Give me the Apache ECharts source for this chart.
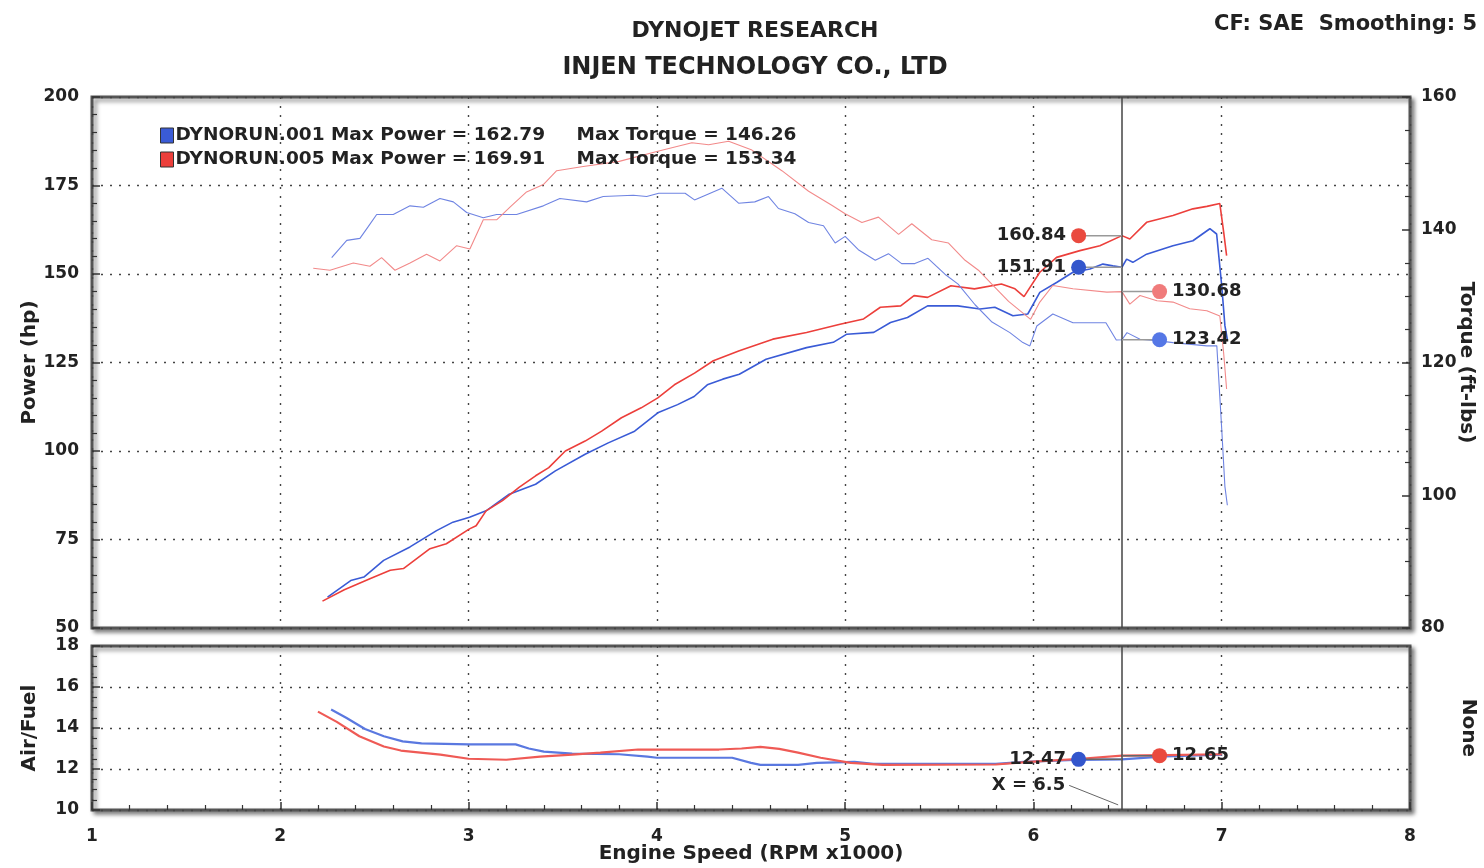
<!DOCTYPE html>
<html>
<head>
<meta charset="utf-8">
<script src="https://cdn.jsdelivr.net/npm/echarts@6/dist/echarts.min.js"></script>
<style>
html,body{margin:0;padding:0;background:#fff;overflow:hidden;}
#chart{width:1484px;height:868px;}
</style>
</head>
<body>
<div id="chart"></div>
<script>
// ---------------- DATA ----------------
// Power (hp) vs RPM x1000
const blueHpRpm = [2.251,2.374,2.444,2.549,2.689,2.83,2.917,3.005,3.093,3.216,3.356,3.461,3.619,3.742,3.882,4.005,4.11,4.198,4.268,4.35,4.438,4.58,4.795,4.937,5.009,5.152,5.241,5.331,5.438,5.598,5.716,5.795,5.891,5.97,6.034,6.123,6.21,6.3,6.369,6.422,6.47,6.495,6.528,6.601,6.741,6.847,6.937,6.973,7.0,7.017,7.03];
const blueHp    = [58.7,63.4,64.4,69.1,72.9,77.5,79.9,81.3,83.1,87.8,90.6,94.4,99.1,102.3,105.6,110.8,113.1,115.4,118.7,120.3,121.7,125.9,129.2,130.7,133.0,133.5,136.3,137.7,141.0,141.0,140.1,140.6,138.2,138.7,144.8,147.6,150.5,151.4,152.8,152.3,151.91,154.2,153.3,155.6,158.0,159.4,162.79,161.3,146.7,135.4,131.5];

const redHpRpm = [2.224,2.34,2.479,2.584,2.654,2.795,2.882,3.005,3.04,3.093,3.18,3.268,3.356,3.426,3.514,3.619,3.707,3.812,3.917,4.005,4.093,4.2,4.3,4.438,4.616,4.795,4.973,5.098,5.187,5.295,5.366,5.438,5.562,5.687,5.83,5.902,5.95,6.034,6.123,6.247,6.353,6.47,6.512,6.601,6.741,6.847,6.921,6.99,7.01,7.026];
const redHp    = [57.6,60.8,64.0,66.3,66.8,72.4,73.8,78.0,78.9,83.1,86.0,89.7,93.0,95.3,100.0,102.8,105.6,109.4,112.2,115.0,118.7,122.0,125.5,128.3,131.6,133.5,135.8,137.3,140.6,141.0,143.9,143.4,146.7,145.8,147.2,145.8,143.6,150.5,154.7,156.6,158.0,160.84,159.9,164.6,166.5,168.4,169.1,169.91,162.0,155.2];

// Torque (ft-lbs) vs RPM x1000
const blueTqRpm = [2.273,2.353,2.423,2.468,2.512,2.6,2.689,2.76,2.848,2.919,2.99,3.078,3.149,3.255,3.397,3.485,3.627,3.715,3.875,3.946,4.01,4.15,4.2,4.345,4.434,4.52,4.593,4.646,4.733,4.806,4.885,4.947,5.0,5.07,5.16,5.23,5.3,5.37,5.44,5.53,5.6,5.69,5.78,5.875,5.944,5.981,6.018,6.103,6.21,6.385,6.44,6.47,6.497,6.566,6.656,6.741,6.921,6.974,7.0,7.017,7.03];
const blueTq    = [135.8,138.4,138.7,140.5,142.3,142.3,143.6,143.4,144.7,144.2,142.6,141.8,142.3,142.3,143.6,144.7,144.2,145.0,145.2,145.0,145.5,145.5,144.5,146.26,144.0,144.2,145.0,143.2,142.4,141.1,140.6,138.0,139.0,137.0,135.4,136.4,134.9,134.9,135.7,133.3,131.8,128.7,126.1,124.5,123.0,122.5,125.5,127.3,126.0,126.0,123.4,123.42,124.5,123.5,123.3,123.0,122.5,122.5,110.0,101.3,98.5];

const redTqRpm = [2.175,2.264,2.388,2.476,2.538,2.609,2.689,2.777,2.848,2.937,3.007,3.078,3.149,3.22,3.308,3.397,3.468,3.6,3.8,4.0,4.186,4.275,4.381,4.505,4.664,4.806,4.929,5.0,5.089,5.177,5.284,5.354,5.46,5.549,5.637,5.708,5.779,5.868,5.938,5.985,6.034,6.103,6.21,6.39,6.47,6.512,6.566,6.656,6.741,6.83,6.921,6.99,7.01,7.026];
const redTq    = [134.2,133.9,135.0,134.5,135.8,133.9,135.0,136.3,135.3,137.6,137.1,141.5,141.5,143.4,145.7,146.8,148.9,149.5,150.3,151.8,153.1,152.8,153.34,152.0,148.9,145.8,143.7,142.4,141.1,141.9,139.3,140.9,138.5,138.0,135.4,133.9,131.8,129.2,127.6,126.5,129.1,131.6,131.1,130.6,130.68,128.8,130.1,129.3,129.1,128.1,127.8,127.0,121.5,116.0];

// Air/Fuel vs RPM x1000
const blueAfRpm = [2.27,2.35,2.45,2.55,2.65,2.75,3.0,3.25,3.32,3.4,3.55,3.8,3.95,4.0,4.4,4.5,4.55,4.75,4.85,5.05,5.15,5.5,5.8,5.95,6.25,6.47,6.7,7.0];
const blueAf    = [14.9,14.5,13.95,13.6,13.35,13.25,13.2,13.2,13.0,12.85,12.75,12.72,12.6,12.55,12.55,12.3,12.2,12.2,12.3,12.35,12.25,12.25,12.25,12.35,12.45,12.47,12.62,12.7];
const redAfRpm = [2.2,2.3,2.42,2.55,2.64,2.85,3.0,3.2,3.38,3.55,3.7,3.9,4.33,4.45,4.55,4.65,4.75,4.87,5.03,5.2,5.8,5.98,6.25,6.47,6.7,7.0];
const redAf    = [14.8,14.3,13.6,13.1,12.9,12.7,12.5,12.45,12.6,12.7,12.8,12.95,12.95,13.0,13.08,12.98,12.8,12.55,12.3,12.2,12.22,12.35,12.5,12.65,12.68,12.72];

// Cursor readings
const cursorX = 6.47;
const cursorLabel = 'X = 6.5';
const cursorBlueHp = 151.91, cursorRedHp = 160.84;
const cursorBlueTq = 123.42, cursorRedTq = 130.68;
const cursorBlueAf = 12.47, cursorRedAf = 12.65;

// Legend texts
const runNames = ['DYNORUN.001', 'DYNORUN.005'];
const maxPower = ['162.79', '169.91'];
const maxTorque = ['146.26', '153.34'];

// Axis ticks
const xTicks = {min: 1, max: 8, interval: 1};
const hpTicks = {min: 50, max: 200, interval: 25};
const tqTicks = {min: 80, max: 160, interval: 20};
const afTicks = {min: 10, max: 18, interval: 2};

// ---------------- STYLE ----------------
const FONT = 'DejaVu Sans';
const BLUE = '#3a5bd6', RED = '#ec3f3b';
const BLUE_T = '#6f84e2', RED_T = '#f28a8a';
const LEFT_MARK = 6.24, RIGHT_MARK = 6.67;

function pairs(xs, ys) { return xs.map((x, i) => [x, ys[i]]); }

const dotted = {color: '#444', width: 1.4, type: [2, 7]};
const frameGrid = {
  show: true, backgroundColor: '#fff', borderColor: '#555', borderWidth: 3,
  shadowColor: 'rgba(0,0,0,0.45)', shadowBlur: 4, shadowOffsetX: 3, shadowOffsetY: 3,
  outerBoundsMode: 'none', containLabel: false
};
const tickLbl = {color: '#222', fontFamily: FONT, fontWeight: 'bold', fontSize: 17};
const nameStyle = {color: '#222', fontFamily: FONT, fontWeight: 'bold', fontSize: 20};
const markLbl = {color: '#222', fontFamily: FONT, fontWeight: 'bold', fontSize: 18};

function markerSeries(name, xi, yi, value, markX, color, side, lineColor) {
  return {
    name: name, type: 'line', xAxisIndex: xi, yAxisIndex: yi, z: 10,
    lineStyle: {color: lineColor || '#999', width: 1.5},
    itemStyle: {color: color},
    symbolSize: 15, silent: true, animation: false,
    data: [
      {value: [cursorX, value], symbol: 'none'},
      {value: [markX, value], symbol: 'circle',
       label: Object.assign({show: true, position: side, distance: 5, formatter: value.toFixed(2)}, markLbl)}
    ]
  };
}

const cursorLine = {
  silent: true, symbol: ['none', 'none'], animation: false,
  lineStyle: {color: '#444', width: 1.5, type: 'solid'},
  label: {show: false},
  data: [{xAxis: cursorX}]
};

const chart = echarts.init(document.getElementById('chart'), null, {renderer: 'canvas', width: 1484, height: 868});
const option = {
  backgroundColor: '#fff',
  animation: false,
  title: [
    {text: 'DYNOJET RESEARCH', left: 750, top: 15, textAlign: 'center',
     textStyle: {fontFamily: FONT, fontWeight: 'bold', fontSize: 22, color: '#222'}},
    {text: 'INJEN TECHNOLOGY CO., LTD', left: 750, top: 51, textAlign: 'center',
     textStyle: {fontFamily: FONT, fontWeight: 'bold', fontSize: 24, color: '#222'}},
    {text: 'CF: SAE  Smoothing: 5', right: 2, top: 9,
     textStyle: {fontFamily: FONT, fontWeight: 'bold', fontSize: 21, color: '#222'}}
  ],
  legend: {
    left: 155, top: 121, orient: 'vertical', itemGap: 5, itemWidth: 13, itemHeight: 15,
    icon: 'rect', selectedMode: false,
    data: [
      {name: runNames[0], itemStyle: {color: BLUE, borderColor: '#333', borderWidth: 1}},
      {name: runNames[1], itemStyle: {color: RED, borderColor: '#333', borderWidth: 1}}
    ],
    formatter: function (n) {
      const i = runNames.indexOf(n);
      return '{a|' + n + ' Max Power = ' + maxPower[i] + '}{b|Max Torque = ' + maxTorque[i] + '}';
    },
    textStyle: {
      padding: [0, 0, 0, -3],
      rich: {
        a: {width: 401, fontFamily: FONT, fontWeight: 'bold', fontSize: 18.5, color: '#222'},
        b: {fontFamily: FONT, fontWeight: 'bold', fontSize: 18.5, color: '#222'}
      }
    }
  },
  grid: [
    Object.assign({left: 92, right: 74, top: 97, height: 531}, frameGrid),
    Object.assign({left: 92, right: 74, top: 646, height: 164}, frameGrid)
  ],
  xAxis: [
    {type: 'value', gridIndex: 0, min: xTicks.min, max: xTicks.max, interval: xTicks.interval,
     axisLine: {show: false}, axisTick: {show: false}, axisLabel: {show: false},
     splitLine: {show: true, lineStyle: dotted}},
    {type: 'value', gridIndex: 1, min: xTicks.min, max: xTicks.max, interval: xTicks.interval,
     axisLine: {show: false},
     axisTick: {show: true, inside: true, length: 8, lineStyle: {color: '#333', width: 1.5}},
     minorTick: {show: true, splitNumber: 5, length: 5, lineStyle: {color: '#333', width: 1.2}},
     axisLabel: Object.assign({margin: 18}, tickLbl),
     splitLine: {show: true, lineStyle: dotted},
     name: 'Engine Speed (RPM x1000)', nameLocation: 'middle', nameGap: 34, nameMoveOverlap: false,
     nameTextStyle: nameStyle}
  ],
  yAxis: [
    {type: 'value', gridIndex: 0, min: hpTicks.min, max: hpTicks.max, interval: hpTicks.interval,
     axisLine: {show: false},
     axisTick: {show: true, inside: true, length: 8, lineStyle: {color: '#333', width: 1.5}},
     minorTick: {show: true, splitNumber: 5, length: 5, lineStyle: {color: '#333', width: 1.2}},
     axisLabel: Object.assign({margin: 13}, tickLbl),
     splitLine: {show: true, lineStyle: dotted},
     name: 'Power (hp)', nameLocation: 'middle', nameGap: 52, nameMoveOverlap: false, nameTextStyle: nameStyle},
    {type: 'value', gridIndex: 0, position: 'right', min: tqTicks.min, max: tqTicks.max, interval: tqTicks.interval,
     axisLine: {show: false},
     axisTick: {show: true, inside: true, length: 8, lineStyle: {color: '#333', width: 1.5}},
     minorTick: {show: true, splitNumber: 4, length: 5, lineStyle: {color: '#333', width: 1.2}},
     axisLabel: Object.assign({margin: 11}, tickLbl),
     splitLine: {show: false},
     name: 'Torque (ft-lbs)', nameLocation: 'middle', nameGap: 46, nameRotate: -90, nameMoveOverlap: false,
     nameTextStyle: nameStyle},
    {type: 'value', gridIndex: 1, min: afTicks.min, max: afTicks.max, interval: afTicks.interval,
     axisLine: {show: false},
     axisTick: {show: true, inside: true, length: 8, lineStyle: {color: '#333', width: 1.5}},
     minorTick: {show: true, splitNumber: 4, length: 5, lineStyle: {color: '#333', width: 1.2}},
     axisLabel: Object.assign({margin: 13}, tickLbl),
     splitLine: {show: true, lineStyle: dotted},
     name: 'Air/Fuel', nameLocation: 'middle', nameGap: 52, nameMoveOverlap: false, nameTextStyle: nameStyle},
    {type: 'value', gridIndex: 1, position: 'right', min: 0, max: 1,
     axisLine: {show: false}, axisTick: {show: false}, axisLabel: {show: false}, splitLine: {show: false},
     name: 'None', nameLocation: 'middle', nameGap: 48, nameRotate: -90, nameMoveOverlap: false,
     nameTextStyle: nameStyle}
  ],
  series: [
    {name: runNames[0], type: 'line', xAxisIndex: 0, yAxisIndex: 0, showSymbol: false, silent: true,
     data: pairs(blueHpRpm, blueHp), lineStyle: {color: BLUE, width: 1.6}, itemStyle: {color: BLUE},
     markLine: cursorLine},
    {name: runNames[1], type: 'line', xAxisIndex: 0, yAxisIndex: 0, showSymbol: false, silent: true,
     data: pairs(redHpRpm, redHp), lineStyle: {color: RED, width: 1.6}, itemStyle: {color: RED}},
    {name: 'blueTq', type: 'line', xAxisIndex: 0, yAxisIndex: 1, showSymbol: false, silent: true,
     data: pairs(blueTqRpm, blueTq), lineStyle: {color: BLUE_T, width: 1.1}},
    {name: 'redTq', type: 'line', xAxisIndex: 0, yAxisIndex: 1, showSymbol: false, silent: true,
     data: pairs(redTqRpm, redTq), lineStyle: {color: RED_T, width: 1.1}},
    {name: 'blueAf', type: 'line', xAxisIndex: 1, yAxisIndex: 2, showSymbol: false, silent: true,
     data: pairs(blueAfRpm, blueAf), lineStyle: {color: '#5a78e0', width: 2.2},
     markLine: cursorLine},
    {name: 'redAf', type: 'line', xAxisIndex: 1, yAxisIndex: 2, showSymbol: false, silent: true,
     data: pairs(redAfRpm, redAf), lineStyle: {color: '#ef5a55', width: 2.2}},
    markerSeries('mRedHp', 0, 0, cursorRedHp, LEFT_MARK, '#ea4a3f', 'left'),
    markerSeries('mBlueHp', 0, 0, cursorBlueHp, LEFT_MARK, '#3356cc', 'left'),
    markerSeries('mRedTq', 0, 1, cursorRedTq, RIGHT_MARK, '#f07b7b', 'right'),
    markerSeries('mBlueTq', 0, 1, cursorBlueTq, RIGHT_MARK, '#5577e6', 'right'),
    markerSeries('mBlueAf', 1, 2, cursorBlueAf, LEFT_MARK, '#3356cc', 'left', '#666'),
    markerSeries('mRedAf', 1, 2, cursorRedAf, RIGHT_MARK, '#ea4a3f', 'right', '#666'),
    {name: 'cursorTag', type: 'line', xAxisIndex: 1, yAxisIndex: 2, silent: true, z: 9,
     showSymbol: false,
     lineStyle: {color: '#666', width: 1},
     data: [[cursorX - 0.28, 11.2], [cursorX - 0.02, 10.25]],
     markPoint: {
       silent: true, animation: false,
       symbol: 'circle', symbolSize: 2,
       itemStyle: {color: 'rgba(0,0,0,0)'},
       data: [{coord: [cursorX - 0.28, 11.2],
               label: Object.assign({show: true, position: 'left', distance: 3, formatter: cursorLabel}, markLbl)}]
     }}
  ]
};
chart.setOption(option);
</script>
</body>
</html>
